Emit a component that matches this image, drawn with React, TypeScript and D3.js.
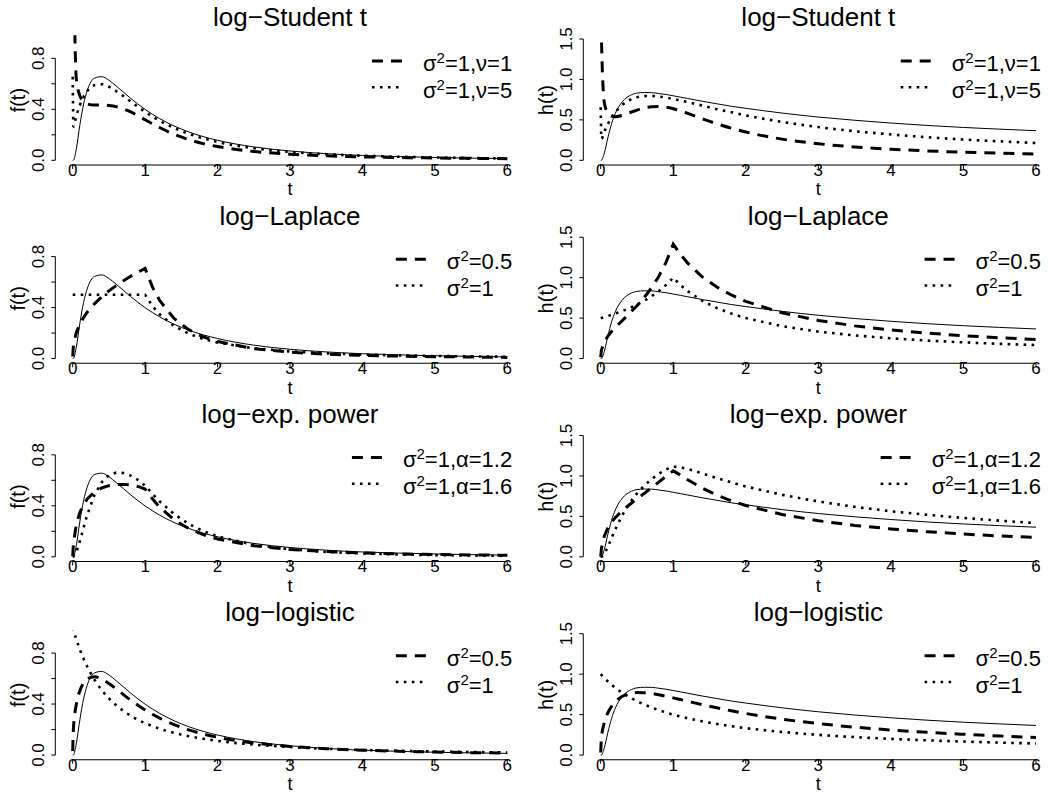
import React from "react";
import * as d3 from "d3";

// ---- data (t grid shared by every curve) ----
const T = [0.0001, 0.01, 0.05, 0.1, 0.15, 0.2, 0.3, 0.4, 0.5, 0.6, 0.7, 0.8, 0.9, 1.0, 1.1, 1.2, 1.4, 1.6, 1.8, 2.0, 2.5, 3.0, 3.5, 4.0, 4.5, 5.0, 5.5, 6.0];

// reference (solid) curve: log-normal
const LN_F = [0, 0.001, 0.09, 0.281, 0.44, 0.546, 0.644, 0.656, 0.628, 0.583, 0.535, 0.486, 0.441, 0.399, 0.361, 0.327, 0.269, 0.223, 0.186, 0.157, 0.105, 0.073, 0.052, 0.038, 0.029, 0.022, 0.017, 0.013];
const LN_H = [0, 0.001, 0.09, 0.284, 0.453, 0.577, 0.727, 0.8, 0.831, 0.838, 0.837, 0.826, 0.814, 0.798, 0.781, 0.764, 0.73, 0.699, 0.668, 0.643, 0.584, 0.535, 0.495, 0.461, 0.431, 0.406, 0.385, 0.366];

// log-Student t
const ST1_F = [1.6, 1.433, 0.638, 0.505, 0.461, 0.443, 0.433, 0.433, 0.43, 0.421, 0.403, 0.379, 0.35, 0.318, 0.287, 0.257, 0.204, 0.163, 0.131, 0.108, 0.069, 0.048, 0.035, 0.027, 0.022, 0.018, 0.015, 0.013];
const ST5_F = [0.655, 0.264, 0.348, 0.434, 0.497, 0.543, 0.589, 0.596, 0.577, 0.543, 0.503, 0.461, 0.419, 0.38, 0.343, 0.31, 0.254, 0.208, 0.173, 0.144, 0.095, 0.066, 0.048, 0.036, 0.028, 0.022, 0.018, 0.014];
const ST1_H = [2.4, 1.538, 0.711, 0.581, 0.546, 0.539, 0.556, 0.588, 0.621, 0.647, 0.662, 0.665, 0.656, 0.637, 0.611, 0.58, 0.515, 0.452, 0.397, 0.35, 0.262, 0.205, 0.165, 0.137, 0.116, 0.1, 0.088, 0.078];
const ST5_H = [0.655, 0.265, 0.353, 0.45, 0.528, 0.593, 0.686, 0.746, 0.779, 0.793, 0.796, 0.789, 0.776, 0.759, 0.739, 0.719, 0.677, 0.632, 0.595, 0.555, 0.475, 0.411, 0.36, 0.32, 0.285, 0.257, 0.235, 0.214];

// log-Laplace
const LAP05_F = [0.016, 0.105, 0.204, 0.273, 0.322, 0.363, 0.429, 0.484, 0.531, 0.572, 0.61, 0.645, 0.677, 0.707, 0.562, 0.456, 0.314, 0.227, 0.171, 0.133, 0.078, 0.05, 0.034, 0.025, 0.019, 0.015, 0.012, 0.009];
const LAP1_F = [0.5, 0.5, 0.5, 0.5, 0.5, 0.5, 0.5, 0.5, 0.5, 0.5, 0.5, 0.5, 0.5, 0.5, 0.413, 0.347, 0.255, 0.195, 0.154, 0.125, 0.08, 0.056, 0.041, 0.031, 0.025, 0.02, 0.017, 0.014];
const LAP05_H = [0.016, 0.105, 0.206, 0.278, 0.334, 0.383, 0.472, 0.561, 0.653, 0.756, 0.874, 1.015, 1.189, 1.414, 1.286, 1.179, 1.01, 0.884, 0.786, 0.707, 0.566, 0.471, 0.404, 0.354, 0.314, 0.283, 0.257, 0.236];
const LAP1_H = [0.5, 0.503, 0.513, 0.526, 0.541, 0.556, 0.588, 0.625, 0.667, 0.714, 0.769, 0.833, 0.909, 1.0, 0.909, 0.833, 0.714, 0.625, 0.556, 0.5, 0.4, 0.333, 0.286, 0.25, 0.222, 0.2, 0.182, 0.167];

// log-exponential power
const EP12_F = [0.003, 0.103, 0.255, 0.35, 0.41, 0.453, 0.508, 0.54, 0.558, 0.567, 0.568, 0.563, 0.552, 0.532, 0.455, 0.389, 0.29, 0.222, 0.174, 0.14, 0.086, 0.058, 0.041, 0.03, 0.023, 0.018, 0.015, 0.012];
const EP16_F = [0, 0.001, 0.034, 0.125, 0.229, 0.328, 0.484, 0.585, 0.639, 0.661, 0.657, 0.637, 0.603, 0.558, 0.495, 0.435, 0.335, 0.259, 0.202, 0.16, 0.094, 0.058, 0.038, 0.026, 0.018, 0.013, 0.01, 0.007];
const EP12_H = [0.003, 0.103, 0.257, 0.359, 0.428, 0.484, 0.572, 0.647, 0.716, 0.784, 0.852, 0.923, 0.996, 1.063, 1.01, 0.952, 0.848, 0.763, 0.693, 0.634, 0.523, 0.446, 0.388, 0.345, 0.31, 0.281, 0.258, 0.238];
const EP16_H = [0, 0.001, 0.034, 0.126, 0.232, 0.337, 0.52, 0.666, 0.783, 0.879, 0.959, 1.027, 1.081, 1.115, 1.107, 1.086, 1.031, 0.974, 0.92, 0.87, 0.766, 0.684, 0.618, 0.563, 0.519, 0.48, 0.447, 0.416];

// log-logistic
const LL05_F = [0.031, 0.209, 0.397, 0.505, 0.565, 0.597, 0.615, 0.596, 0.561, 0.519, 0.474, 0.431, 0.391, 0.354, 0.32, 0.29, 0.239, 0.198, 0.166, 0.14, 0.095, 0.068, 0.05, 0.038, 0.03, 0.024, 0.019, 0.016];
const LL1_F = [1.0, 0.98, 0.907, 0.826, 0.756, 0.694, 0.592, 0.51, 0.444, 0.391, 0.346, 0.309, 0.277, 0.25, 0.227, 0.207, 0.174, 0.148, 0.128, 0.111, 0.082, 0.063, 0.049, 0.04, 0.033, 0.028, 0.024, 0.02];
const LL05_H = [0.031, 0.21, 0.403, 0.525, 0.603, 0.658, 0.727, 0.76, 0.772, 0.77, 0.761, 0.746, 0.727, 0.707, 0.686, 0.665, 0.623, 0.584, 0.547, 0.514, 0.444, 0.389, 0.345, 0.31, 0.281, 0.257, 0.236, 0.218];
const LL1_H = [1.0, 0.99, 0.952, 0.909, 0.87, 0.833, 0.769, 0.714, 0.667, 0.625, 0.588, 0.556, 0.526, 0.5, 0.476, 0.455, 0.417, 0.385, 0.357, 0.333, 0.286, 0.25, 0.222, 0.2, 0.182, 0.167, 0.154, 0.143];

const TITLES = ["log\u2212Student t", "log\u2212Laplace", "log\u2212exp. power", "log\u2212logistic"];
// legend text after "σ²"
const LEGEND_TEXT = [
  ["=1,\u03bd=1", "=1,\u03bd=5"],
  ["=0.5", "=1"],
  ["=1,\u03b1=1.2", "=1,\u03b1=1.6"],
  ["=0.5", "=1"],
];

const X_TICKS = [0, 1, 2, 3, 4, 5, 6];
const F_TICKS = [0, 0.2, 0.4, 0.6, 0.8];
const F_LABELS = [0, 0.4, 0.8];
const H_TICKS = [0, 0.5, 1.0, 1.5];
const H_LABELS = [0, 0.5, 1.0, 1.5];

const SERIES_F = [
  [LN_F, ST1_F, ST5_F],
  [LN_F, LAP05_F, LAP1_F],
  [LN_F, EP12_F, EP16_F],
  [LN_F, LL05_F, LL1_F],
];
const SERIES_H = [
  [LN_H, ST1_H, ST5_H],
  [LN_H, LAP05_H, LAP1_H],
  [LN_H, EP12_H, EP16_H],
  [LN_H, LL05_H, LL1_H],
];
const KINKED = [false, true, true, false];

const FONT = "'Liberation Sans', Arial, Helvetica, sans-serif";

let _ctx: CanvasRenderingContext2D | null = null;
function textWidth(s: string, size: number): number {
  if (!_ctx) _ctx = document.createElement("canvas").getContext("2d");
  if (!_ctx) return s.length * size * 0.55;
  _ctx.font = `${size}px ${FONT}`;
  return _ctx.measureText(s).width;
}

const LEG_SIZE = 22;
const SUP_SIZE = 15;
const TICK_SIZE = 17;

function Panel({ row, col }: { row: number; col: number }) {
  const isF = col === 0;
  const x0 = col === 0 ? 72.7 : 600.7;
  const x6 = col === 0 ? 507.3 : 1036;
  const xs = d3.scaleLinear().domain([0, 6]).range([x0, x6]);
  const y0 = 160.3 + 198.25 * row;
  const ys = isF
    ? d3.scaleLinear().domain([0, 0.8]).range([y0, y0 - 102])
    : d3.scaleLinear().domain([0, 1.5]).range([y0, y0 - 121.3]);
  const plotLeft = xs(-0.24);
  const plotRight = xs(6.24);
  const plotBottom = y0 + 4.7;
  const plotTop = y0 - 125;
  const ticks = isF ? F_TICKS : H_TICKS;
  const labels = isF ? F_LABELS : H_LABELS;
  const series = isF ? SERIES_F[row] : SERIES_H[row];
  const clipId = `clip-${row}-${col}`;

  const smooth = d3
    .line<number>()
    .x((_, i) => xs(T[i]))
    .y((d) => ys(d))
    .curve(d3.curveMonotoneX);
  const straight = d3
    .line<number>()
    .x((_, i) => xs(T[i]))
    .y((d) => ys(d));
  const other = KINKED[row] ? straight : smooth;

  const legTexts = LEGEND_TEXT[row];
  const widths = legTexts.map(
    (s) => textWidth("\u03c3", LEG_SIZE) + textWidth("2", SUP_SIZE) + textWidth(s, LEG_SIZE)
  );
  const textStart = plotRight - 12.5 - Math.max(...widths);
  const sampleEnd = textStart - 19;
  const sampleStart = sampleEnd - 32;
  const legRows = [
    { lineY: y0 - 99.3, baseY: y0 - 89.5, dash: "11 8", w: 3 },
    { lineY: y0 - 73, baseY: y0 - 62.5, dash: "2.6 5.4", w: 2.6 },
  ];

  const midX = (plotLeft + plotRight) / 2;
  const midY = (plotTop + plotBottom) / 2;

  return (
    <g>
      <defs>
        <clipPath id={clipId}>
          <rect x={plotLeft} y={plotTop} width={plotRight - plotLeft} height={plotBottom - plotTop} />
        </clipPath>
      </defs>
      <text x={midX} y={y0 - 134} textAnchor="middle" fontSize={26} fontFamily={FONT}>
        {TITLES[row]}
      </text>
      {/* curves */}
      <g clipPath={`url(#${clipId})`} fill="none" stroke="#000">
        <path d={smooth(series[0]) || ""} strokeWidth={1} />
        <path d={other(series[1]) || ""} strokeWidth={3} strokeDasharray="11 8" />
        <path d={other(series[2]) || ""} strokeWidth={2.6} strokeDasharray="2.6 5.4" />
      </g>
      {/* x axis */}
      <line x1={xs(0)} x2={xs(6)} y1={plotBottom} y2={plotBottom} stroke="#000" strokeWidth={1} />
      {X_TICKS.map((t) => (
        <g key={`xt${t}`}>
          <line x1={xs(t)} x2={xs(t)} y1={plotBottom} y2={plotBottom + 4} stroke="#000" strokeWidth={1} />
          <text x={xs(t)} y={y0 + 15.5} textAnchor="middle" fontSize={TICK_SIZE} fontFamily={FONT}>
            {String(t)}
          </text>
        </g>
      ))}
      <text x={midX} y={y0 + 35} textAnchor="middle" fontSize={18} fontFamily={FONT}>
        t
      </text>
      {/* y axis */}
      <line
        x1={plotLeft}
        x2={plotLeft}
        y1={ys(0)}
        y2={ys(ticks[ticks.length - 1])}
        stroke="#000"
        strokeWidth={1}
      />
      {ticks.map((v) => (
        <line key={`yt${v}`} x1={plotLeft} x2={plotLeft - 4} y1={ys(v)} y2={ys(v)} stroke="#000" strokeWidth={1} />
      ))}
      {labels.map((v) => (
        <text
          key={`yl${v}`}
          transform={`translate(${plotLeft - 11},${ys(v)}) rotate(-90)`}
          textAnchor="middle"
          fontSize={TICK_SIZE}
          fontFamily={FONT}
        >
          {v.toFixed(1)}
        </text>
      ))}
      <text
        transform={`translate(${plotLeft - 30},${midY}) rotate(-90)`}
        textAnchor="middle"
        fontSize={20}
        fontFamily={FONT}
      >
        {isF ? "f(t)" : "h(t)"}
      </text>
      {/* legend */}
      {legRows.map((r, i) => (
        <g key={`lg${i}`}>
          <line
            x1={sampleStart}
            x2={sampleEnd}
            y1={r.lineY}
            y2={r.lineY}
            stroke="#000"
            strokeWidth={r.w}
            strokeDasharray={r.dash}
          />
          <text x={textStart} y={r.baseY} fontSize={LEG_SIZE} fontFamily={FONT}>
            <tspan>{"\u03c3"}</tspan>
            <tspan fontSize={SUP_SIZE} dy={-8}>
              2
            </tspan>
            <tspan dy={8}>{legTexts[i]}</tspan>
          </text>
        </g>
      ))}
    </g>
  );
}

export default function App() {
  const rows = [0, 1, 2, 3];
  return (
    <svg
      width={1059}
      height={795}
      viewBox="0 0 1059 795"
      style={{ position: "absolute", left: 0, top: 0, background: "#fff" }}
    >
      <rect x={0} y={0} width={1059} height={795} fill="#fff" />
      {rows.map((r) => (
        <g key={r}>
          <Panel row={r} col={0} />
          <Panel row={r} col={1} />
        </g>
      ))}
    </svg>
  );
}
